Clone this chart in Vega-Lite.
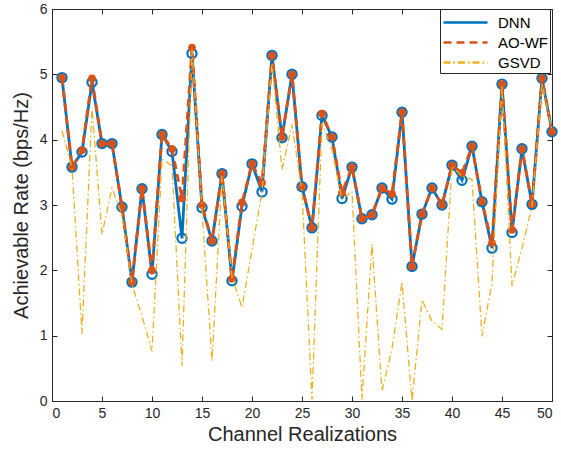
{
  "$schema": "https://vega.github.io/schema/vega-lite/v6.json",
  "width": 500,
  "height": 392,
  "autosize": "none",
  "padding": {"left": 52, "top": 9, "right": 9, "bottom": 57},
  "background": "white",
  "config": {
    "font": "Liberation Sans",
    "view": {"stroke": "#262626", "strokeWidth": 1},
    "axis": {
      "grid": false,
      "domainColor": "#262626",
      "tickColor": "#262626",
      "labelColor": "#262626",
      "titleColor": "#262626",
      "labelFontSize": 14,
      "titleFontSize": 20,
      "titleFontWeight": "normal",
      "tickSize": -5,
      "labelPadding": 10
    },
    "legend": {
      "orient": "none",
      "legendX": 388,
      "legendY": 0,
      "strokeColor": "#262626",
      "fillColor": "white",
      "padding": 2,
      "labelFontSize": 15,
      "labelColor": "#000000",
      "symbolType": "M-2.2,0H2.2",
      "symbolSize": 400,
      "symbolOffset": 12,
      "symbolStrokeWidth": 2.5,
      "rowPadding": 0,
      "labelOffset": 21,
      "cornerRadius": 0
    }
  },
  "data": {
    "values": [
      {"n": 1, "DNN": 4.95, "AO-WF": 4.95, "GSVD": 4.14},
      {"n": 2, "DNN": 3.58, "AO-WF": 3.58, "GSVD": 3.57},
      {"n": 3, "DNN": 3.81, "AO-WF": 3.84, "GSVD": 1.03},
      {"n": 4, "DNN": 4.88, "AO-WF": 4.94, "GSVD": 4.49},
      {"n": 5, "DNN": 3.94, "AO-WF": 3.94, "GSVD": 2.55},
      {"n": 6, "DNN": 3.94, "AO-WF": 3.94, "GSVD": 3.26},
      {"n": 7, "DNN": 2.97, "AO-WF": 2.97, "GSVD": 2.85},
      {"n": 8, "DNN": 1.82, "AO-WF": 1.82, "GSVD": 1.78},
      {"n": 9, "DNN": 3.25, "AO-WF": 3.25, "GSVD": 1.3},
      {"n": 10, "DNN": 1.94, "AO-WF": 2.0, "GSVD": 0.76},
      {"n": 11, "DNN": 4.08, "AO-WF": 4.08, "GSVD": 3.7},
      {"n": 12, "DNN": 3.82, "AO-WF": 3.86, "GSVD": 3.6},
      {"n": 13, "DNN": 2.49, "AO-WF": 3.1, "GSVD": 0.54},
      {"n": 14, "DNN": 5.32, "AO-WF": 5.41, "GSVD": 5.38},
      {"n": 15, "DNN": 2.96, "AO-WF": 3.0, "GSVD": 2.92},
      {"n": 16, "DNN": 2.45, "AO-WF": 2.45, "GSVD": 0.61},
      {"n": 17, "DNN": 3.48, "AO-WF": 3.48, "GSVD": 3.44},
      {"n": 18, "DNN": 1.84, "AO-WF": 1.87, "GSVD": 1.9},
      {"n": 19, "DNN": 2.98, "AO-WF": 3.04, "GSVD": 1.43},
      {"n": 20, "DNN": 3.63, "AO-WF": 3.63, "GSVD": 2.32},
      {"n": 21, "DNN": 3.2, "AO-WF": 3.34, "GSVD": 3.2},
      {"n": 22, "DNN": 5.29, "AO-WF": 5.29, "GSVD": 5.17},
      {"n": 23, "DNN": 4.03, "AO-WF": 4.04, "GSVD": 3.54},
      {"n": 24, "DNN": 5.0, "AO-WF": 5.0, "GSVD": 4.23},
      {"n": 25, "DNN": 3.28, "AO-WF": 3.28, "GSVD": 3.2},
      {"n": 26, "DNN": 2.65, "AO-WF": 2.65, "GSVD": 0.02},
      {"n": 27, "DNN": 4.37, "AO-WF": 4.4, "GSVD": 4.25},
      {"n": 28, "DNN": 4.04, "AO-WF": 4.04, "GSVD": 3.85},
      {"n": 29, "DNN": 3.1, "AO-WF": 3.19, "GSVD": 3.08},
      {"n": 30, "DNN": 3.58, "AO-WF": 3.58, "GSVD": 3.21},
      {"n": 31, "DNN": 2.79, "AO-WF": 2.79, "GSVD": 0.02},
      {"n": 32, "DNN": 2.85, "AO-WF": 2.85, "GSVD": 2.4},
      {"n": 33, "DNN": 3.26, "AO-WF": 3.26, "GSVD": 0.15},
      {"n": 34, "DNN": 3.09, "AO-WF": 3.17, "GSVD": 0.8},
      {"n": 35, "DNN": 4.42, "AO-WF": 4.42, "GSVD": 1.82},
      {"n": 36, "DNN": 2.06, "AO-WF": 2.06, "GSVD": 0.0},
      {"n": 37, "DNN": 2.86, "AO-WF": 2.86, "GSVD": 1.55},
      {"n": 38, "DNN": 3.26, "AO-WF": 3.26, "GSVD": 1.22},
      {"n": 39, "DNN": 3.0, "AO-WF": 3.0, "GSVD": 1.1},
      {"n": 40, "DNN": 3.61, "AO-WF": 3.61, "GSVD": 3.59},
      {"n": 41, "DNN": 3.38, "AO-WF": 3.49, "GSVD": 3.44},
      {"n": 42, "DNN": 3.9, "AO-WF": 3.9, "GSVD": 3.39},
      {"n": 43, "DNN": 3.05, "AO-WF": 3.05, "GSVD": 0.99},
      {"n": 44, "DNN": 2.34, "AO-WF": 2.42, "GSVD": 1.81},
      {"n": 45, "DNN": 4.85, "AO-WF": 4.85, "GSVD": 4.83},
      {"n": 46, "DNN": 2.58, "AO-WF": 2.62, "GSVD": 1.76},
      {"n": 47, "DNN": 3.86, "AO-WF": 3.86, "GSVD": 2.34},
      {"n": 48, "DNN": 3.01, "AO-WF": 3.01, "GSVD": 2.98},
      {"n": 49, "DNN": 4.94, "AO-WF": 4.94, "GSVD": 4.87},
      {"n": 50, "DNN": 4.12, "AO-WF": 4.12, "GSVD": 4.14}
    ]
  },
  "transform": [
    {"fold": ["DNN", "AO-WF", "GSVD"], "as": ["series", "rate"]}
  ],
  "layer": [
    {
      "encoding": {
        "x": {
          "field": "n", "type": "quantitative",
          "scale": {"domain": [0, 50], "nice": false, "zero": false},
          "axis": {"title": "Channel Realizations", "values": [0,5,10,15,20,25,30,35,40,45,50], "titlePadding": 4}
        },
        "y": {
          "field": "rate", "type": "quantitative",
          "scale": {"domain": [0, 6], "nice": false},
          "axis": {"title": "Achievable Rate (bps/Hz)", "values": [0,1,2,3,4,5,6], "titlePadding": 8}
        }
      },
      "layer": [
        {
          "transform": [{"filter": "datum.series === 'DNN'"}],
          "mark": {"type": "line", "strokeWidth": 2.8},
          "encoding": {
            "color": {"field": "series", "type": "nominal", "scale": {"domain": ["DNN", "AO-WF", "GSVD"], "range": ["#0072BD", "#D95319", "#EDB120"]}, "legend": {"title": null}},
            "strokeDash": {"field": "series", "type": "nominal", "scale": {"domain": ["DNN", "AO-WF", "GSVD"], "range": [[1, 0], [8, 5], [7, 3, 1.5, 3]]}, "legend": {"title": null}}
          }
        },
        {
          "transform": [{"filter": "datum.series === 'DNN'"}],
          "mark": {"type": "point", "shape": "circle", "filled": false, "size": 85, "strokeWidth": 2.2, "color": "#0072BD", "opacity": 1}
        },
        {
          "transform": [{"filter": "datum.series === 'AO-WF'"}],
          "mark": {"type": "line", "strokeWidth": 2.8},
          "encoding": {
            "color": {"field": "series", "type": "nominal"},
            "strokeDash": {"field": "series", "type": "nominal"}
          }
        },
        {
          "transform": [{"filter": "datum.series === 'AO-WF'"}],
          "mark": {"type": "point", "shape": "circle", "filled": true, "size": 60, "color": "#D95319", "opacity": 1}
        },
        {
          "transform": [{"filter": "datum.series === 'GSVD'"}],
          "mark": {"type": "line", "strokeWidth": 1.3},
          "encoding": {
            "color": {"field": "series", "type": "nominal"},
            "strokeDash": {"field": "series", "type": "nominal"}
          }
        }
      ]
    },
    {
      "mark": {"type": "point", "opacity": 0},
      "encoding": {
        "x": {"field": "n", "type": "quantitative", "axis": {"orient": "top", "labels": false, "title": null, "domain": false, "values": [0,5,10,15,20,25,30,35,40,45,50]}},
        "y": {"field": "rate", "type": "quantitative", "axis": {"orient": "right", "labels": false, "title": null, "domain": false, "values": [0,1,2,3,4,5,6]}}
      }
    }
  ],
  "resolve": {"axis": {"x": "independent", "y": "independent"}}
}
